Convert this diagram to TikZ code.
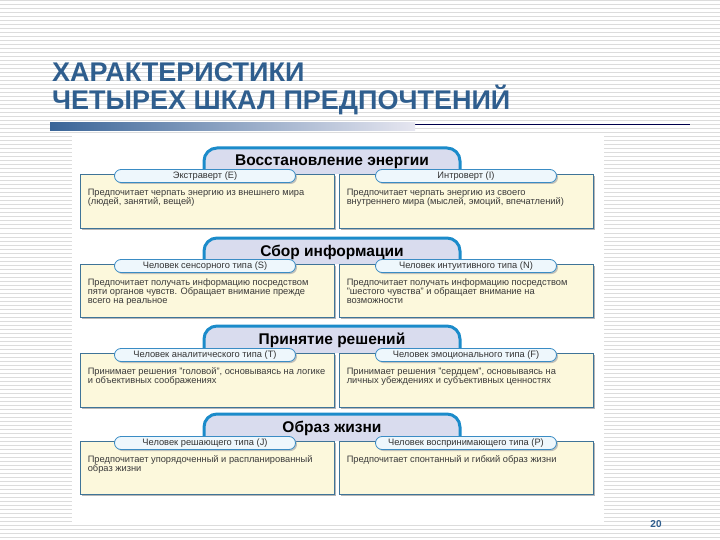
\documentclass[tikz,border=0pt]{standalone}
\usepackage{fontspec}
\setmainfont{Liberation Sans}
\usetikzlibrary{shadows,calc}
\definecolor{titleblue}{HTML}{2F5E8E}
\definecolor{barblue}{HTML}{3A6598}
\definecolor{barmid}{HTML}{8A9CBC}
\definecolor{barlight}{HTML}{E6E6F0}
\definecolor{stripegray}{HTML}{DCDCDC}
\definecolor{hdrborder}{HTML}{1B8BCA}
\definecolor{hdrfill}{HTML}{D9DCEE}
\definecolor{boxfill}{HTML}{FCF8DC}
\definecolor{boxborder}{HTML}{3F7498}
\definecolor{pillfill}{HTML}{EEF7FC}
\definecolor{pillborder}{HTML}{3A8CC4}
\definecolor{bodytext}{HTML}{3A3A3A}
\tikzset{
  stripe/.style={draw=stripegray, line width=1pt},
  titletext/.style={text=titleblue, font=\fontsize{27}{30}\selectfont\bfseries, inner sep=0pt},
  headerpill/.style={draw=hdrborder, fill=hdrfill, line width=3pt, rounded corners=13pt},
  headertext/.style={text=black, font=\fontsize{15.5}{17}\selectfont\bfseries, inner sep=0pt},
  infobox/.style={draw=boxborder, fill=boxfill, line width=0.8pt, minimum width=254pt, inner sep=0pt,
    drop shadow={shadow xshift=2pt, shadow yshift=-2pt, fill=gray!70, opacity=0.8}},
  pill/.style={draw=pillborder, fill=pillfill, line width=0.8pt, rounded corners=6.5pt,
    minimum width=181pt, minimum height=13pt, inner sep=0pt, text=black!80,
    font=\fontsize{9.3}{10}\selectfont,
    drop shadow={shadow xshift=1.5pt, shadow yshift=-1.5pt, fill=gray!60, opacity=0.8}},
  boxtext/.style={text=bodytext, font=\fontsize{9.3}{9}\selectfont, align=left, inner sep=0pt, anchor=north west},
  pagenum/.style={text=titleblue, font=\fontsize{10}{12}\selectfont\bfseries, inner sep=0pt}
}
% #1 header top, #2 box top, #3 box bottom, #4 header, #5 left label, #6 left text,
% #7 right label, #8 right text, #9 name prefix
\newcommand\mbtisection[9]{%
  \filldraw[headerpill] (204,#2) -- (204,#1) -- (460,#1) -- (460,#2);
  \node[headertext] (#9h) at (332,{(#1+#2)/2+1}) {#4};
  \node[infobox, minimum height={#3-#2}] (#9L) at (207,{(#2+#3)/2}) {};
  \node[infobox, minimum height={#3-#2}] (#9R) at (466,{(#2+#3)/2}) {};
  \node[pill] (#9Lp) at (205,{#2+2}) {#5};
  \node[pill] (#9Rp) at (466,{#2+2}) {#7};
  \node[boxtext] (#9Lt) at ($(#9L.north west)+(8,15)$) {#6};
  \node[boxtext] (#9Rt) at ($(#9R.north west)+(8,15)$) {#8};
}
\begin{document}
\begin{tikzpicture}[x=1pt,y=-1pt]
\useasboundingbox (0,0) rectangle (720,540);
\fill[white] (0,0) rectangle (720,540);
\foreach \yy in {1,5,...,539} \draw[stripe] (0,\yy) -- (720,\yy);
\fill[white] (72,133) rectangle (604,523);
% title
\node[titletext, anchor=base west] (t1) at (52,82) {ХАРАКТЕРИСТИКИ};
\node[titletext, anchor=base west] (t2) at (52,110) {ЧЕТЫРЕХ ШКАЛ ПРЕДПОЧТЕНИЙ};
\coordinate (lineA) at (50,124);
\coordinate (lineB) at (690,124);
\draw[draw=black!70!blue, line width=0.8pt] (lineA) -- (lineB);
\shade[left color=barblue, middle color=barmid, right color=barlight] (50,123) rectangle (415,131);
% sections
\mbtisection{148}{174}{228}{Восстановление энергии}{Экстраверт (E)}{Предпочитает черпать энергию из внешнего мира\\(людей, занятий, вещей)}{Интроверт (I)}{Предпочитает черпать энергию из своего\\внутреннего мира (мыслей, эмоций, впечатлений)}{a}
\mbtisection{238}{264}{317}{Сбор информации}{Человек сенсорного типа (S)}{Предпочитает получать информацию посредством\\пяти органов чувств. Обращает внимание прежде\\всего на реальное}{Человек интуитивного типа (N)}{Предпочитает получать информацию посредством\\"шестого чувства" и обращает внимание на\\возможности}{b}
\mbtisection{326}{353}{407}{Принятие решений}{Человек аналитического типа (T)}{Принимает решения "головой", основываясь на логике\\и объективных соображениях}{Человек эмоционального типа (F)}{Принимает решения "сердцем", основываясь на\\личных убеждениях и субъективных ценностях}{c}
\mbtisection{414}{441}{494}{Образ жизни}{Человек решающего типа (J)}{Предпочитает упорядоченный и распланированный\\образ жизни}{Человек воспринимающего типа (P)}{Предпочитает спонтанный и гибкий образ жизни}{d}
\node[pagenum] (pg) at (656,524) {20};
\end{tikzpicture}
\end{document}
